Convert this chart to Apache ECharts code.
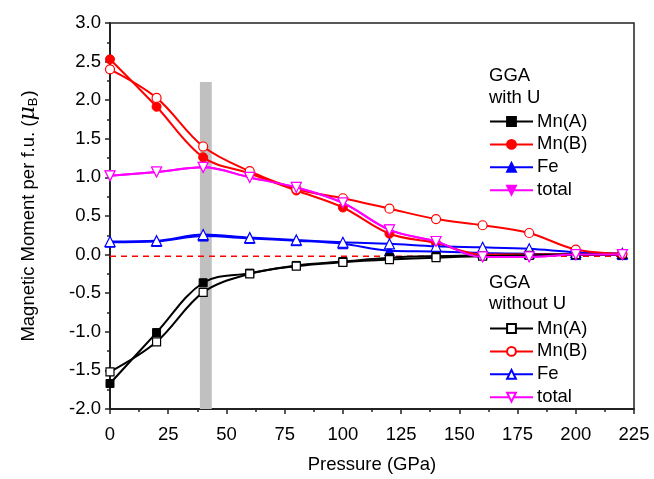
<!DOCTYPE html>
<html><head><meta charset="utf-8">
<script src="https://cdn.jsdelivr.net/npm/echarts@6/dist/echarts.min.js"></script>
<style>html,body{margin:0;padding:0;background:#fff}#c{width:654px;height:479px}</style>
</head><body><div id="c"></div>
<script>
const pressure = [0, 20, 40, 60, 80, 100, 120, 140, 160, 180, 200, 220];
// GGA with U (filled markers)
const mnA_U   = [-1.67, -1.01, -0.365, -0.24, -0.14, -0.09, -0.04, -0.02, -0.01, 0.0, 0.0, 0.0];
const mnB_U   = [2.53, 1.915, 1.26, 1.05, 0.83, 0.61, 0.27, 0.15, 0.0, 0.0, 0.0, 0.0];
const fe_U    = [0.16, 0.17, 0.24, 0.21, 0.18, 0.14, 0.05, 0.04, 0.02, 0.01, 0.0, 0.0];
const tot_U   = [1.02, 1.07, 1.13, 1.0, 0.87, 0.67, 0.32, 0.17, -0.03, -0.03, 0.0, 0.0];
// GGA without U (open markers)
const mnA_noU = [-1.52, -1.13, -0.49, -0.25, -0.15, -0.10, -0.065, -0.04, -0.02, -0.01, 0.0, 0.0];
const mnB_noU = [2.40, 2.03, 1.40, 1.08, 0.85, 0.73, 0.595, 0.46, 0.38, 0.28, 0.065, 0.01];
const fe_noU  = [0.17, 0.18, 0.26, 0.22, 0.19, 0.16, 0.14, 0.107, 0.094, 0.075, 0.03, 0.015];
const tot_noU = [1.02, 1.07, 1.13, 1.0, 0.87, 0.67, 0.32, 0.17, -0.03, -0.03, 0.0, 0.0];
const refLine = [[0, -0.02], [222, -0.02]];
const grayBand = [[38.6, -2.0], [43.7, 2.236]];
const xTicks = {min: 0, max: 225, interval: 25};
const yTicks = {min: -2.0, max: 3.0, interval: 0.5};
const namesU = ['Mn(A)', 'Mn(B)', 'Fe', 'total'];
const namesNoU = ['Mn(A) ', 'Mn(B) ', 'Fe ', 'total '];

const FONT = "'Liberation Sans', Arial, sans-serif";
const FS = 18.5;
const zip = arr => pressure.map((p, i) => [p, arr[i]]);

function mk(name, data, color, symbol, size, filled, z) {
  return {
    name, type: 'line', data: zip(data), smooth: 0.35, symbol, symbolSize: size, z,
    lineStyle: {color, width: 2},
    itemStyle: filled ? {color, borderColor: color, borderWidth: 1} : {color: '#fff', borderColor: color, borderWidth: 1.2},
    emphasis: {disabled: true}
  };
}

const series = [
  {
    name: 'band', type: 'line', data: [], silent: true,
    markArea: {silent: true, itemStyle: {color: '#c0c0c0', opacity: 1},
      data: [[{coord: grayBand[0]}, {coord: grayBand[1]}]]}
  },
  {name: 'ref', type: 'line', data: refLine, symbol: 'none', z: 1,
   lineStyle: {color: '#ff0000', width: 1.5, type: [6, 5]}, silent: true},
  mk(namesU[3], tot_U, '#ff00ff', 'triangle', 10, true, 2),
  mk(namesU[2], fe_U, '#0000ff', 'triangle', 10, true, 2),
  mk(namesU[0], mnA_U, '#000000', 'rect', 8, true, 2),
  mk(namesU[1], mnB_U, '#ff0000', 'circle', 9, true, 2),
  mk(namesNoU[2], fe_noU, '#0000ff', 'triangle', 10, false, 3),
  mk(namesNoU[0], mnA_noU, '#000000', 'rect', 8, false, 3),
  mk(namesNoU[1], mnB_noU, '#ff0000', 'circle', 9, false, 3),
  mk(namesNoU[3], tot_noU, '#ff00ff', 'triangle', 10, false, 4)
];
series.forEach(s => { if (s.name && s.name.trim() === 'total') s.symbolRotate = 180; });

const chart = echarts.init(document.getElementById('c'), null, {renderer: 'canvas'});
const legendBase = {
  orient: 'vertical', left: 489, itemWidth: 43, itemHeight: 11, itemGap: 3.9,
  textStyle: {fontFamily: FONT, fontSize: FS, color: '#000', padding: [0, 0, 0, -1]},
  formatter: n => n.trim(), selectedMode: false, padding: 0
};
chart.setOption({
  animation: false,
  backgroundColor: '#fff',
  textStyle: {fontFamily: FONT},
  grid: {left: 110, right: 20, top: 23, bottom: 66, show: true, borderColor: '#222', borderWidth: 1.5, backgroundColor: 'transparent'},
  xAxis: {
    type: 'value', min: xTicks.min, max: xTicks.max, interval: xTicks.interval,
    name: 'Pressure (GPa)', nameLocation: 'middle', nameGap: 46,
    nameTextStyle: {fontFamily: FONT, fontSize: FS, color: '#000'},
    axisLine: {onZero: false, lineStyle: {color: '#222', width: 2}},
    axisTick: {length: 5, lineStyle: {color: '#222', width: 1.5}},
    minorTick: {show: true, splitNumber: 2, length: 3, lineStyle: {color: '#222', width: 1.5}},
    splitLine: {show: false},
    axisLabel: {fontFamily: FONT, fontSize: FS, color: '#000', margin: 16}
  },
  yAxis: {
    type: 'value', min: yTicks.min, max: yTicks.max, interval: yTicks.interval,
    name: '{t|Magnetic Moment per f.u. (}{mu|μ}{sub|B}{t|)}', nameLocation: 'middle', nameGap: 70,
    nameTextStyle: {fontFamily: FONT, fontSize: FS, color: '#000',
      rich: {
        t: {fontFamily: FONT, fontSize: FS, color: '#000'},
        mu: {fontFamily: 'DejaVu Serif', fontStyle: 'italic', fontSize: 22, color: '#000'},
        sub: {fontFamily: FONT, fontSize: 13, color: '#000', padding: [10, 1, 0, 0]}
      }},
    axisLine: {onZero: false, lineStyle: {color: '#222', width: 2}},
    axisTick: {length: 5, lineStyle: {color: '#222', width: 1.5}},
    minorTick: {show: true, splitNumber: 2, length: 3, lineStyle: {color: '#222', width: 1.5}},
    splitLine: {show: false},
    axisLabel: {fontFamily: FONT, fontSize: FS, color: '#000', margin: 9,
      formatter: v => v.toFixed(1)}
  },
  legend: [
    Object.assign({}, legendBase, {top: 112, data: namesU}),
    Object.assign({}, legendBase, {top: 319, data: namesNoU})
  ],
  graphic: [
    {type: 'text', left: 489, top: 66, style: {text: 'GGA', font: FS + 'px ' + FONT, fill: '#000'}},
    {type: 'text', left: 489, top: 88, style: {text: 'with U', font: FS + 'px ' + FONT, fill: '#000'}},
    {type: 'text', left: 489, top: 273, style: {text: 'GGA', font: FS + 'px ' + FONT, fill: '#000'}},
    {type: 'text', left: 489, top: 294, style: {text: 'without U', font: FS + 'px ' + FONT, fill: '#000'}}
  ],
  series
});
</script></body></html>
